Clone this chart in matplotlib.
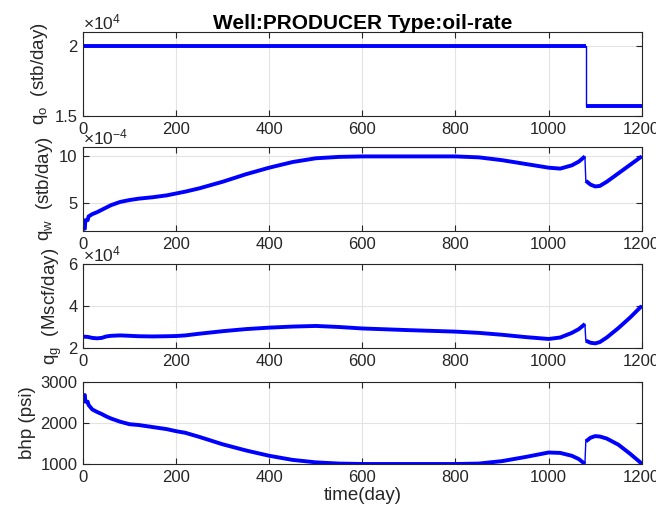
import matplotlib.pyplot as plt
import numpy as np

# Values
# oil rate (x1e4 stb/day)
t_oil = [0, 200, 400, 600, 800, 1000, 1080, 1080, 1100, 1150, 1200]
q_oil = [2.0, 2.0, 2.0, 2.0, 2.0, 2.0, 2.0, 1.57, 1.57, 1.57, 1.57]

# time steps for the other series
t = [0, 4, 5, 10, 12, 20, 30, 40, 50, 60, 80, 100, 120, 150, 180, 200, 220, 250,
     300, 350, 400, 450, 500, 550, 600, 700, 800, 850, 900, 950, 1000, 1025, 1050,
     1065, 1078, 1080, 1090, 1100, 1110, 1125, 1150, 1175, 1200]
# water rate (x1e-4 stb/day)
q_wat = [2.3, 2.3, 3.2, 3.2, 3.6, 3.85, 4.05, 4.3, 4.55, 4.8, 5.15, 5.35, 5.5, 5.65, 5.85, 6.05, 6.25, 6.6,
         7.3, 8.1, 8.8, 9.4, 9.8, 9.95, 10.0, 10.0, 10.0, 9.9, 9.6, 9.2, 8.8, 8.7, 9.05,
         9.45, 10.0, 7.4, 7.0, 6.8, 6.85, 7.3, 8.2, 9.1, 10.0]
# gas rate (x1e4 Mscf/day)
q_gas = [2.54, 2.54, 2.53, 2.53, 2.52, 2.48, 2.46, 2.48, 2.55, 2.58, 2.6, 2.58, 2.56, 2.55, 2.56, 2.57, 2.6, 2.68,
         2.8, 2.9, 2.97, 3.02, 3.05, 3.0, 2.93, 2.85, 2.78, 2.72, 2.63, 2.52, 2.43, 2.5, 2.72,
         2.9, 3.14, 2.35, 2.25, 2.22, 2.28, 2.5, 2.95, 3.45, 4.0]
# bottom hole pressure (psi)
bhp = [2680, 2680, 2520, 2520, 2440, 2330, 2270, 2220, 2160, 2110, 2030, 1970, 1950, 1900, 1850, 1800, 1760, 1660,
       1480, 1330, 1200, 1100, 1040, 1010, 1000, 1000, 1000, 1010, 1070, 1170, 1280, 1270, 1200,
       1120, 1000, 1550, 1640, 1680, 1670, 1620, 1470, 1250, 1010]

plt.rcParams['font.family'] = ['Liberation Sans', 'DejaVu Sans']
plt.rcParams['mathtext.fontset'] = 'custom'
plt.rcParams['mathtext.rm'] = 'Liberation Sans'
plt.rcParams['mathtext.it'] = 'Liberation Sans'

dark = '#262626'
blue = '#0000ff'

fig = plt.figure(figsize=(6.56, 5.19), dpi=100)
boxes = [(0.1265, 0.7765, 0.8517, 0.1618),
         (0.1265, 0.5549, 0.8517, 0.1618),
         (0.1265, 0.3295, 0.8517, 0.1618),
         (0.1265, 0.1060, 0.8517, 0.1580)]
axs = [fig.add_axes(b) for b in boxes]


def draw(ax, x, y, j):
    # j = index of the first point after the rate change
    x = np.asarray(x)
    y = np.asarray(y)
    ax.plot(x, y, color=blue, lw=1.0)
    # thick band where the markers are dense
    ax.plot(x[:j], y[:j], color=blue, lw=2.8, solid_capstyle='butt')
    ax.plot(x[j:], y[j:], color=blue, lw=2.8, solid_capstyle='butt')


draw(axs[0], t_oil, q_oil, 7)
j = t.index(1080)
draw(axs[1], t, q_wat, j)
draw(axs[2], t, q_gas, j)
draw(axs[3], t, bhp, j)

axs[0].set_ylim(1.5, 2.1)
axs[0].set_yticks([1.5, 2])
axs[0].set_yticklabels(['1.5', '2'])
axs[1].set_ylim(2.05, 11)
axs[1].set_yticks([5, 10])
axs[2].set_ylim(2, 6)
axs[2].set_yticks([2, 4, 6])
axs[3].set_ylim(1000, 3000)
axs[3].set_yticks([1000, 2000, 3000])

ylabels = ['q$_\\mathrm{o}$  (stb/day)', 'q$_\\mathrm{w}$  (stb/day)',
           'q$_\\mathrm{g}$  (Mscf/day)', 'bhp (psi)']
offsets = ['4', '-4', '4', None]
for ax, lab, off in zip(axs, ylabels, offsets):
    ax.set_xlim(0, 1200)
    ax.set_xticks(np.arange(0, 1201, 200))
    ax.grid(True, color='#e3e3e3', lw=0.8)
    ax.set_axisbelow(True)
    ax.tick_params(direction='in', top=True, right=True, length=4, width=0.8,
                   colors=dark, labelsize=12, pad=4)
    for s in ax.spines.values():
        s.set_color(dark)
        s.set_linewidth(0.8)
    ax.set_ylabel(lab, color=dark, fontsize=13.5, labelpad=3)
    if off:
        ax.text(0.0, 1.0, '$\\times10^{%s}$' % off, transform=ax.transAxes,
                ha='left', va='bottom', color=dark, fontsize=12.5)

axs[0].set_title('Well:PRODUCER Type:oil-rate', fontsize=15, fontweight='bold',
                 color='black', pad=2)
axs[3].set_xlabel('time(day)', color=dark, fontsize=13.5, labelpad=2)

fig.savefig('out.png', dpi=100)
